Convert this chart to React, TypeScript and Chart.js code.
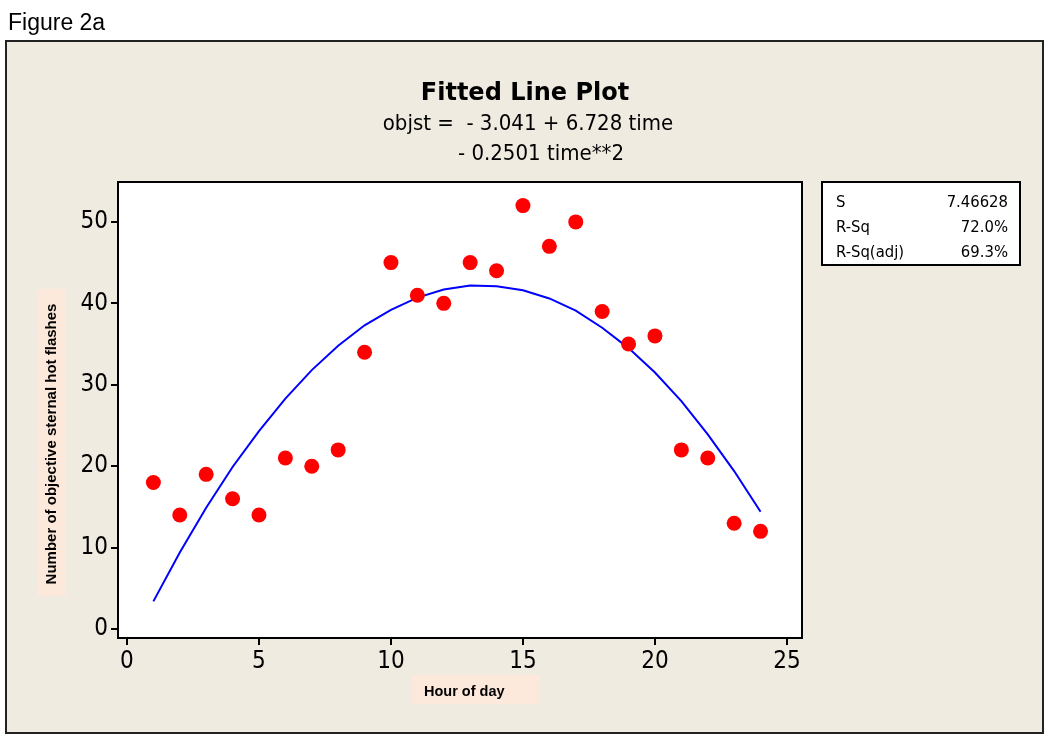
import React, { useEffect, useRef } from "react";
import { Chart, registerables } from "chart.js";

Chart.register(...registerables);

// ---- data ----
const HOURS = [1, 2, 3, 4, 5, 6, 7, 8, 9, 10, 11, 12, 13, 14, 15, 16, 17, 18, 19, 20, 21, 22, 23, 24];
const FLASHES = [18, 14, 19, 16, 14, 21, 20, 22, 34, 45, 41, 40, 45, 44, 52, 47, 50, 39, 35, 36, 22, 21, 13, 12];
const FIT_HOURS = [1, 2, 3, 4, 5, 6, 7, 8, 9, 10, 11, 12, 13, 14, 15, 16, 17, 18, 19, 20, 21, 22, 23, 24];
const FIT_VALUES = [3.4, 9.4, 14.9, 19.9, 24.3, 28.3, 31.8, 34.8, 37.3, 39.2, 40.7, 41.7, 42.2, 42.1, 41.6, 40.6, 39.1, 37.0, 34.5, 31.5, 28.0, 23.9, 19.4, 14.4];
const X_TICKS = [0, 5, 10, 15, 20, 25];
const Y_TICKS = [0, 10, 20, 30, 40, 50];

const FIGURE_LABEL = "Figure 2a";
const TITLE = "Fitted Line Plot";
const EQUATION_LINES = ["objst =  - 3.041 + 6.728 time", "- 0.2501 time**2"];
const STAT_LABELS = ["S", "R-Sq", "R-Sq(adj)"];
const STAT_VALUES = ["7.46628", "72.0%", "69.3%"];
const X_TITLE = "Hour of day";
const Y_TITLE = "Number of objective sternal hot flashes";

const COND = "'DejaVu Sans Condensed', 'Liberation Sans', sans-serif";
const ARIAL = "'Liberation Sans', Arial, sans-serif";
const BEIGE = "#F0EBE1";
const PEACH = "#FCE9DC";

const decorPlugin = {
  id: "decor",
  beforeDraw(chart: any) {
    const ctx = chart.ctx;
    const ca = chart.chartArea;
    ctx.save();
    ctx.fillStyle = "#ffffff";
    ctx.fillRect(0, 0, chart.width, chart.height);

    // figure label
    ctx.fillStyle = "#000";
    ctx.font = `23px ${ARIAL}`;
    ctx.textAlign = "left";
    ctx.textBaseline = "alphabetic";
    ctx.fillText(FIGURE_LABEL, 8, 30);

    // outer panel
    ctx.fillStyle = BEIGE;
    ctx.fillRect(6, 41, 1037, 692);
    ctx.strokeStyle = "#222";
    ctx.lineWidth = 2;
    ctx.strokeRect(6, 41, 1037, 692);

    // title
    ctx.fillStyle = "#000";
    ctx.textAlign = "center";
    ctx.font = `bold 24px 'DejaVu Sans', sans-serif`;
    ctx.fillText(TITLE, 525, 100);
    ctx.font = `22px ${COND}`;
    ctx.fillText(EQUATION_LINES[0], 528, 130);
    ctx.fillText(EQUATION_LINES[1], 541, 160);

    // plot area
    ctx.fillStyle = "#ffffff";
    ctx.fillRect(ca.left, ca.top, ca.right - ca.left, ca.bottom - ca.top);

    // axis title boxes
    ctx.fillStyle = PEACH;
    ctx.fillRect(37, 289, 29, 307);
    ctx.fillRect(412, 675, 128, 29);
    ctx.fillStyle = "#000";
    ctx.font = `bold 14.5px ${ARIAL}`;
    ctx.textAlign = "left";
    ctx.textBaseline = "alphabetic";
    ctx.fillText(X_TITLE, 424, 696);
    ctx.save();
    ctx.translate(56, 444);
    ctx.rotate(-Math.PI / 2);
    ctx.textAlign = "center";
    ctx.font = `bold 15px ${ARIAL}`;
    ctx.fillText(Y_TITLE, 0, 0);
    ctx.restore();

    // stats box
    ctx.fillStyle = "#fff";
    ctx.fillRect(822, 182, 198, 83);
    ctx.strokeStyle = "#000";
    ctx.lineWidth = 2;
    ctx.strokeRect(822, 182, 198, 83);
    ctx.fillStyle = "#000";
    ctx.font = `16.5px ${COND}`;
    STAT_LABELS.forEach((l, i) => {
      ctx.textAlign = "left";
      ctx.fillText(l, 836, 207 + i * 25);
      ctx.textAlign = "right";
      ctx.fillText(STAT_VALUES[i], 1008, 207 + i * 25);
    });
    ctx.restore();
  },
  afterDraw(chart: any) {
    const ctx = chart.ctx;
    const ca = chart.chartArea;
    ctx.save();
    ctx.strokeStyle = "#000";
    ctx.lineWidth = 2;
    ctx.strokeRect(ca.left, ca.top, ca.right - ca.left, ca.bottom - ca.top);
    ctx.restore();
  },
};

export default function App() {
  const ref = useRef<HTMLCanvasElement | null>(null);

  useEffect(() => {
    if (!ref.current) return;
    const chart = new Chart(ref.current, {
      type: "scatter",
      data: {
        datasets: [
          {
            type: "line",
            label: "Fit",
            data: FIT_HOURS.map((x, i) => ({ x, y: FIT_VALUES[i] })),
            borderColor: "#0000FF",
            borderWidth: 2,
            pointRadius: 0,
            fill: false,
            tension: 0,
            order: 2,
          } as any,
          {
            type: "scatter",
            label: "objst",
            data: HOURS.map((x, i) => ({ x, y: FLASHES[i] })),
            backgroundColor: "#FF0000",
            borderColor: "#FF0000",
            borderWidth: 0,
            pointRadius: 7.5,
            order: 1,
          },
        ],
      },
      options: {
        animation: false,
        responsive: false,
        devicePixelRatio: 1,
        layout: { padding: { top: 182, right: 248, left: 0, bottom: 0 } },
        plugins: {
          legend: { display: false },
          tooltip: { enabled: false },
          title: { display: false },
        },
        scales: {
          x: {
            type: "linear",
            min: -0.34,
            max: 25.57,
            afterBuildTicks: (s: any) => {
              s.ticks = X_TICKS.map((v) => ({ value: v }));
            },
            afterFit: (s: any) => {
              s.height = 102;
            },
            grid: {
              drawOnChartArea: false,
              drawTicks: true,
              tickLength: 7,
              color: "#000",
              lineWidth: 2,
            },
            border: { display: false },
            ticks: {
              color: "#000",
              font: { family: COND, size: 24 },
              padding: 2,
              maxRotation: 0,
              autoSkip: false,
            },
          },
          y: {
            type: "linear",
            min: -1.1,
            max: 54.9,
            afterBuildTicks: (s: any) => {
              s.ticks = Y_TICKS.map((v) => ({ value: v }));
            },
            afterFit: (s: any) => {
              s.width = 118;
            },
            grid: {
              drawOnChartArea: false,
              drawTicks: true,
              tickLength: 7,
              color: "#000",
              lineWidth: 2,
            },
            border: { display: false },
            ticks: {
              color: "#000",
              font: { family: COND, size: 24 },
              padding: 3,
              autoSkip: false,
            },
          },
        },
      },
      plugins: [decorPlugin],
    });
    return () => chart.destroy();
  }, []);

  return (
    <div style={{ position: "fixed", left: 0, top: 0, width: 1050, height: 740 }}>
      <canvas ref={ref} width={1050} height={740} style={{ width: 1050, height: 740, display: "block" }} />
    </div>
  );
}
